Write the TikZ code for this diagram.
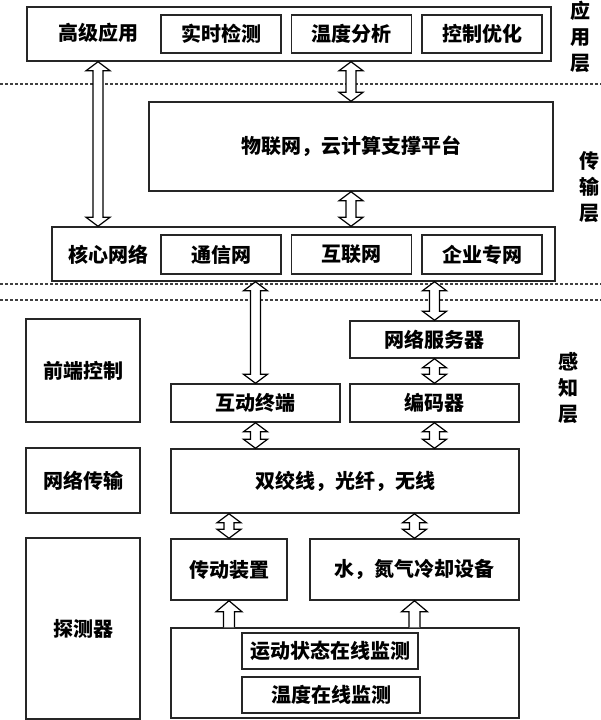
\documentclass[tikz,border=0pt]{standalone}
\usepackage{fontspec}
\setmainfont{Noto Sans CJK SC}
\usetikzlibrary{calc}

\tikzset{
  dblarrow/.style={draw=black,line width=1.2pt,fill=white,
    to path={let \p1=(\tikztostart), \p2=(\tikztotarget), \n1={sign(\y2-\y1)} in
      (\x1,\y1) -- (\x1+12pt,\y1+\n1*9pt) -- (\x1+5pt,\y1+\n1*9pt) -- (\x1+5pt,\y2-\n1*9pt)
      -- (\x1+12pt,\y2-\n1*9pt) -- (\x1,\y2) -- (\x1-12pt,\y2-\n1*9pt) -- (\x1-5pt,\y2-\n1*9pt)
      -- (\x1-5pt,\y1+\n1*9pt) -- (\x1-12pt,\y1+\n1*9pt) -- cycle}},
  uparrow/.style={draw=black,line width=1.2pt,fill=white,
    to path={let \p1=(\tikztostart), \p2=(\tikztotarget), \n1={sign(\y2-\y1)} in
      (\x1-5.5pt,\y1) -- (\x1-5.5pt,\y2-\n1*11pt) -- (\x1-13pt,\y2-\n1*11pt) -- (\x1,\y2)
      -- (\x1+13pt,\y2-\n1*11pt) -- (\x1+5.5pt,\y2-\n1*11pt) -- (\x1+5.5pt,\y1)}}
}

\begin{document}
\begin{tikzpicture}[x=1pt,y=-1pt,node distance=130.5pt,font=\bfseries\fontsize{20}{24}\selectfont]
    \tikzstyle{box}=[draw=black!85,line width=1.5pt,fill=white,inner sep=0pt,align=center]
    \tikzstyle{sub}=[box,minimum width=120pt,minimum height=38pt]
    \tikzstyle{layer}=[align=center,inner sep=0pt,font=\bfseries\fontsize{20}{26}\selectfont]
    \tikzstyle{sep}=[draw=black!75,line width=1.5pt,dash pattern=on 3pt off 2pt]

    \useasboundingbox (0,0) rectangle (601,720);

    % application layer
    \node[box,minimum width=524pt,minimum height=54pt] (app) at (289,34) {};
    \node               (gjyy) at (98,33)   {高级应用};
    \node[sub]          (sjjc) at (221,34)  {实时检测};
    \node[sub]          (wdfx) [right of=sjjc] {温度分析};
    \node[sub]          (kzyh) [right of=wdfx] {控制优化};
    \node[layer]        (yyc)  at (580,37)  {应\\用\\层};

    % transport layer
    \node[box,minimum width=404pt,minimum height=89pt] (ptf) at (351,146.5) {物联网，云计算支撑平台};
    \node[box,minimum width=503pt,minimum height=54pt] (core) at (303.5,254) {};
    \node               (hxwl) at (108,255) {核心网络};
    \node[sub,minimum height=39pt] (txw) at (221,254.5) {通信网};
    \node[sub,minimum height=39pt] (hlw)  [right of=txw] {互联网};
    \node[sub,minimum height=39pt] (qyzw) [right of=hlw] {企业专网};
    \node[layer]        (csc)  at (589,187.5) {传\\输\\层};

    % perception layer
    \node[box,minimum width=114pt,minimum height=103pt] (qdkz) at (83,370.5) {前端控制};
    \node[box,minimum width=114pt,minimum height=65pt]  (wlcs) at (83,480.5) {网络传输};
    \node[box,minimum width=114pt,minimum height=181pt] (tcq)  at (83,628.5) {探测器};
    \node[box,minimum width=169pt,minimum height=37pt] (wlfwq) at (434.5,339.5) {网络服务器};
    \node[box,minimum width=169pt,minimum height=38pt] (hdzd)  at (255.5,403) {互动终端};
    \node[box,minimum width=169pt,minimum height=38pt] (bmq)   at (434.5,403) {编码器};
    \node[box,minimum width=348pt,minimum height=64pt] (sjx)   at (345,481) {双绞线，光纤，无线};
    \node[box,minimum width=116pt,minimum height=61pt] (cdzz)  at (229,569.5) {传动装置};
    \node[box,minimum width=209pt,minimum height=61pt] (lqsb)  at (414.5,569.5) {水，氮气冷却设备};
    \node[box,minimum width=348pt,minimum height=90pt] (jc)    at (345,673) {};
    \node[box,minimum width=176pt,minimum height=36pt] (ydzt)  at (330,651) {运动状态在线监测};
    \node[box,minimum width=178pt,minimum height=36pt] (wdzx)  at (331,695) {温度在线监测};
    \node[layer]        (gzc)  at (568,388) {感\\知\\层};

    % layer borders
    \draw[sep] (0,84) -- (601,84);
    \draw[sep] (0,284) -- (601,284);
    \draw[sep] (0,300) -- (601,300);

    % arrows
    \draw[dblarrow] (app.south -| gjyy) to (core.north -| gjyy);
    \draw[dblarrow] (app.south -| ptf) to (ptf.north);
    \draw[dblarrow] (ptf.south) to (core.north -| ptf);
    \draw[dblarrow] (core.south -| hdzd) to (hdzd.north);
    \draw[dblarrow] (core.south -| wlfwq) to (wlfwq.north);
    \draw[dblarrow] (wlfwq.south) to (bmq.north);
    \draw[dblarrow] (hdzd.south) to (sjx.north -| hdzd);
    \draw[dblarrow] (bmq.south) to (sjx.north -| bmq);
    \draw[dblarrow] (sjx.south -| cdzz) to (cdzz.north);
    \draw[dblarrow] (sjx.south -| lqsb) to (lqsb.north);
    \draw[uparrow] (jc.north -| cdzz) to (cdzz.south);
    \draw[uparrow] (jc.north -| lqsb) to (lqsb.south);
\end{tikzpicture}
\end{document}
